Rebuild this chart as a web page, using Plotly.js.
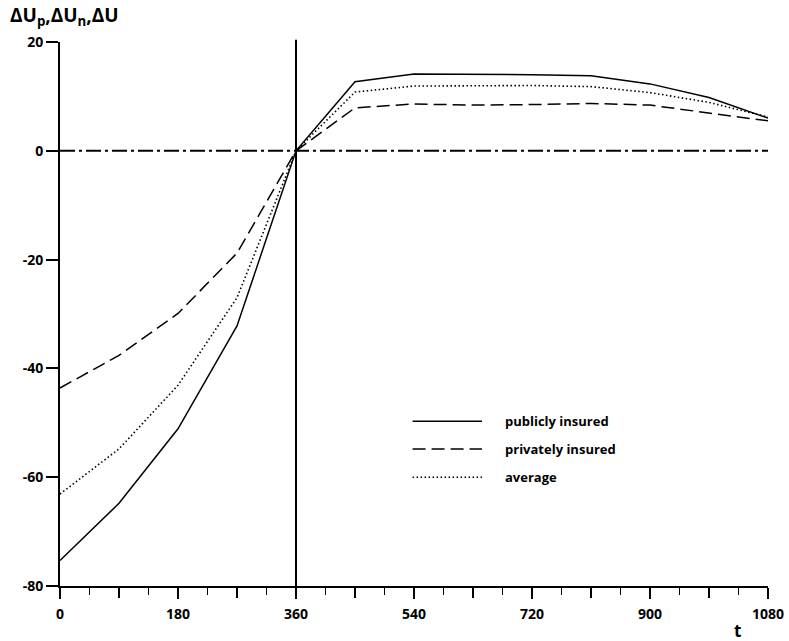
<!DOCTYPE html>
<html>
<head>
<meta charset="utf-8">
<script src="https://cdn.plot.ly/plotly-3.0.1.min.js"></script>
<style>
  html, body { margin: 0; padding: 0; background: #fff; }
  #chart { width: 789px; height: 641px; }
</style>
</head>
<body>
<div id="chart"></div>
<script>
// Time grid (t) and the three utility-difference series
const tValues = [0, 90, 180, 270, 360, 450, 540, 630, 720, 810, 900, 990, 1080];
const publiclyInsured = [-75.3, -64.8, -51.1, -32.2, 0, 12.7, 14.1, 14.1, 14.0, 13.8, 12.3, 9.8, 6.0];
const privatelyInsured = [-43.6, -37.6, -29.9, -18.8, 0, 7.9, 8.6, 8.4, 8.5, 8.7, 8.4, 7.0, 5.5];
const averageSeries = [-63.1, -54.8, -43.1, -27.0, 0, 10.8, 11.9, 11.9, 12.0, 11.8, 10.7, 8.9, 6.2];

const seriesNames = ['publicly insured', 'privately insured', 'average'];
const seriesDash = ['solid', '13px,6px', '1.5px,2.5px'];
const seriesWidth = [1.5, 1.5, 1.6];

// Labelled ticks every 180, extra long unlabelled ticks halfway, short ticks every 45
const xTickVals = [0, 180, 360, 540, 720, 900, 1080];
const xTickText = ['0', '180', '360', '540', '720', '900', '1080'];
const xMidTickVals = [90, 270, 450, 630, 810, 990];
const yTickVals = [-80, -60, -40, -20, 0, 20];
const yTickText = ['-80', '-60', '-40', '-20', '0', '20'];

const switchT = 360;   // vertical reference line
const baseline = 0;    // horizontal dash-dot reference line

const FONT = '"Open Sans", "DejaVu Sans", sans-serif';

const seriesData = [publiclyInsured, privatelyInsured, averageSeries];
const traces = seriesData.map((ys, i) => ({
  x: tValues,
  y: ys,
  type: 'scatter',
  mode: 'lines',
  name: seriesNames[i],
  xaxis: i === 2 ? 'x2' : 'x',
  line: { color: '#000', width: seriesWidth[i], dash: seriesDash[i] },
  hoverinfo: 'skip',
  showlegend: false
}));

// Hand-drawn legend block (paper coordinates)
const legX0 = 0.498, legX1 = 0.596, legTextX = 0.626;
const legY = [0.303, 0.252, 0.200];
const legendShapes = seriesNames.map((n, i) => ({
  type: 'line', xref: 'paper', yref: 'paper',
  x0: legX0, x1: legX1, y0: legY[i], y1: legY[i],
  line: { color: '#000', width: seriesWidth[i], dash: seriesDash[i] }
}));
const legendLabels = seriesNames.map((n, i) => ({
  xref: 'paper', yref: 'paper', x: legTextX, y: legY[i],
  xanchor: 'left', yanchor: 'middle', showarrow: false,
  text: n, font: { family: FONT, size: 13, color: '#000', weight: 'bold' }
}));

const tickFont = { family: FONT, size: 14, weight: 'bold', color: '#000' };

const layout = {
  width: 789,
  height: 641,
  margin: { l: 60, r: 21, t: 42, b: 55 },
  paper_bgcolor: '#fff',
  plot_bgcolor: '#fff',
  showlegend: false,
  font: { family: FONT, size: 13, color: '#000', weight: 'bold' },
  xaxis: {
    range: [0, 1080],
    tickmode: 'array',
    tickvals: xTickVals,
    ticktext: xTickText,
    ticks: 'outside',
    ticklen: 11,
    tickwidth: 2,
    tickcolor: '#000',
    ticklabelstandoff: 3,
    minor: { dtick: 45, tick0: 45, ticks: 'outside', ticklen: 7, tickwidth: 1.6, tickcolor: '#000' },
    showline: true,
    linecolor: '#000',
    linewidth: 2,
    showgrid: false,
    zeroline: false,
    tickfont: tickFont,
    fixedrange: true
  },
  xaxis2: {
    overlaying: 'x',
    anchor: 'y',
    side: 'bottom',
    range: [0, 1080],
    tickmode: 'array',
    tickvals: xMidTickVals,
    ticks: 'outside',
    ticklen: 11,
    tickwidth: 2,
    tickcolor: '#000',
    showticklabels: false,
    showline: false,
    showgrid: false,
    zeroline: false,
    fixedrange: true
  },
  yaxis: {
    range: [-80, 20],
    tickmode: 'array',
    tickvals: yTickVals,
    ticktext: yTickText,
    ticks: 'outside',
    ticklen: 12,
    tickwidth: 2,
    tickcolor: '#000',
    ticklabelstandoff: 0,
    showline: true,
    linecolor: '#000',
    linewidth: 2,
    showgrid: false,
    zeroline: false,
    tickfont: tickFont,
    fixedrange: true
  },
  shapes: [
    { type: 'line', xref: 'x', yref: 'paper', x0: switchT, x1: switchT, y0: 0, y1: 1.004,
      line: { color: '#000', width: 2 } },
    { type: 'line', xref: 'paper', yref: 'y', x0: 0, x1: 1, y0: baseline, y1: baseline,
      line: { color: '#000', width: 2, dash: '15px,4px,3px,4px' } }
  ].concat(legendShapes),
  annotations: [
    { xref: 'paper', yref: 'paper', x: -0.074, y: 1.048, xanchor: 'left', yanchor: 'middle',
      showarrow: false, text: '\u0394U<sub>p</sub>,\u0394U<sub>n</sub>,\u0394U',
      font: { family: FONT, size: 19, color: '#000', weight: 'bold' } },
    { xref: 'paper', yref: 'paper', x: 0.9576, y: -0.081, xanchor: 'center', yanchor: 'middle',
      showarrow: false, text: 't',
      font: { family: FONT, size: 17, color: '#000', weight: 'bold' } }
  ].concat(legendLabels)
};

Plotly.newPlot('chart', traces, layout, { staticPlot: true, displayModeBar: false });
</script>
</body>
</html>
